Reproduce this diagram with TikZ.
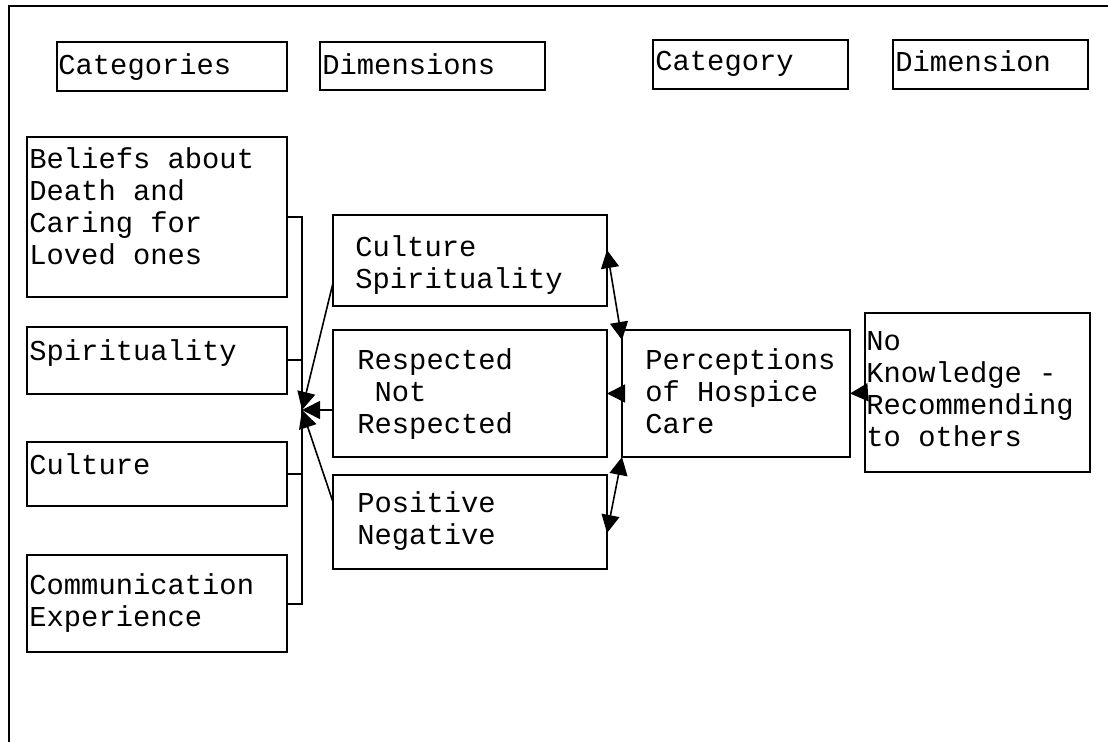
\documentclass[tikz,border=0pt]{standalone}
\usepackage{fontspec}
\newfontfamily\boxfont{Liberation Mono}
\usepackage{tikz}
\usetikzlibrary{arrows.meta}
\tikzset{
  box/.style={
    rectangle, draw=black, line width=1.3pt,
    inner sep=0pt, outer sep=0pt, anchor=north west,
  },
  boxsize/.style n args={2}{minimum width=#1*0.5pt, minimum height=#2*0.5pt},
  txt/.style={anchor=north west, align=left, inner sep=0pt,
              font=\boxfont\fontsize{14.4}{16}\selectfont},
  link/.style={line width=1pt},
  arrow/.style={-{Triangle[length=9pt, width=9pt]}, line width=0.8pt},
  dblarrow/.style={{Triangle[length=9pt, width=9pt]}-{Triangle[length=9pt, width=9pt]}, line width=0.8pt},
}

\begin{document}
\begin{tikzpicture}[x=0.5pt, y=-0.5pt]
  \useasboundingbox (0,0) rectangle (1108,742);

  % Frame
  \draw[link] (9,742) -- (9,6) -- (1108,6);

  % Header row
  \node[box, boxsize={230}{49}] (cats) at (57,42)  {};
  \node[box, boxsize={225}{48}] (dims) at (320,42) {};
  \node[box, boxsize={195}{49}] (cat)  at (653,40) {};
  \node[box, boxsize={195}{49}] (dim)  at (893,40) {};
  \node[txt] at ([shift={(1,11)}]cats.north west) {Categories};
  \node[txt] at ([shift={(2,11)}]dims.north west) {Dimensions};
  \node[txt] at ([shift={(2,11)}]cat.north west)  {Category};
  \node[txt] at ([shift={(2,10)}]dim.north west)  {Dimension};

  % Categories column
  \node[box, boxsize={260}{160}] (bel) at (27,137) {};
  \node[box, boxsize={260}{67}]  (spi) at (27,327) {};
  \node[box, boxsize={260}{64}]  (cul) at (27,442) {};
  \node[box, boxsize={260}{97}]  (com) at (27,555) {};
  \node[txt] at ([shift={(2,10)}]bel.north west) {Beliefs about\\Death and\\Caring for\\Loved ones};
  \node[txt] at ([shift={(2,12)}]spi.north west) {Spirituality};
  \node[txt] at ([shift={(2,11)}]cul.north west) {Culture};
  \node[txt] at ([shift={(2,18)}]com.north west) {Communication\\Experience};

  % Dimensions column
  \node[box, boxsize={274}{91}]  (csp)  at (333,215) {};
  \node[box, boxsize={274}{127}] (resp) at (333,330) {};
  \node[box, boxsize={274}{94}]  (pos)  at (333,475) {};
  \node[txt] at ([shift={(22,20)}]csp.north west)  {Culture\\Spirituality};
  \node[txt] at ([shift={(24,18)}]resp.north west) {Respected\\\hphantom{x}Not\\Respected};
  \node[txt] at ([shift={(24,16)}]pos.north west)  {Positive\\Negative};

  % Category and dimension
  \node[box, boxsize={228}{127}] (per) at (622,330) {};
  \node[box, boxsize={225}{159}] (nok) at (865,313) {};
  \node[txt] at ([shift={(23,18)}]per.north west) {Perceptions\\of Hospice\\Care};
  \node[txt] at ([shift={(1,18)}]nok.north west)  {No\\Knowledge -\\Recommending\\to others};

  % Bracket
  \coordinate (hub) at (302,410);
  \draw[link] (bel.east) -| (hub);
  \draw[link] (com.east) -| (hub);
  \draw[link] (spi.east) -- (spi.east -| hub);
  \draw[link] (cul.east) -- (cul.east -| hub);

  % Arrows
  \draw[arrow] ([shift={(0,-23)}]csp.south west) -- (hub);
  \draw[arrow] (resp.west |- hub) -- (hub);
  \draw[arrow] ([shift={(0,27)}]pos.north west) -- (hub);
  \draw[arrow] (per.west) -- (resp.east);
  \draw[arrow] (nok.west) -- (per.east);
  \draw[dblarrow] ([shift={(0,35)}]csp.north east) -- ([shift={(0,10)}]per.north west);
  \draw[dblarrow] (per.south west) -- ([shift={(0,-36)}]pos.south east);

\end{tikzpicture}
\end{document}
